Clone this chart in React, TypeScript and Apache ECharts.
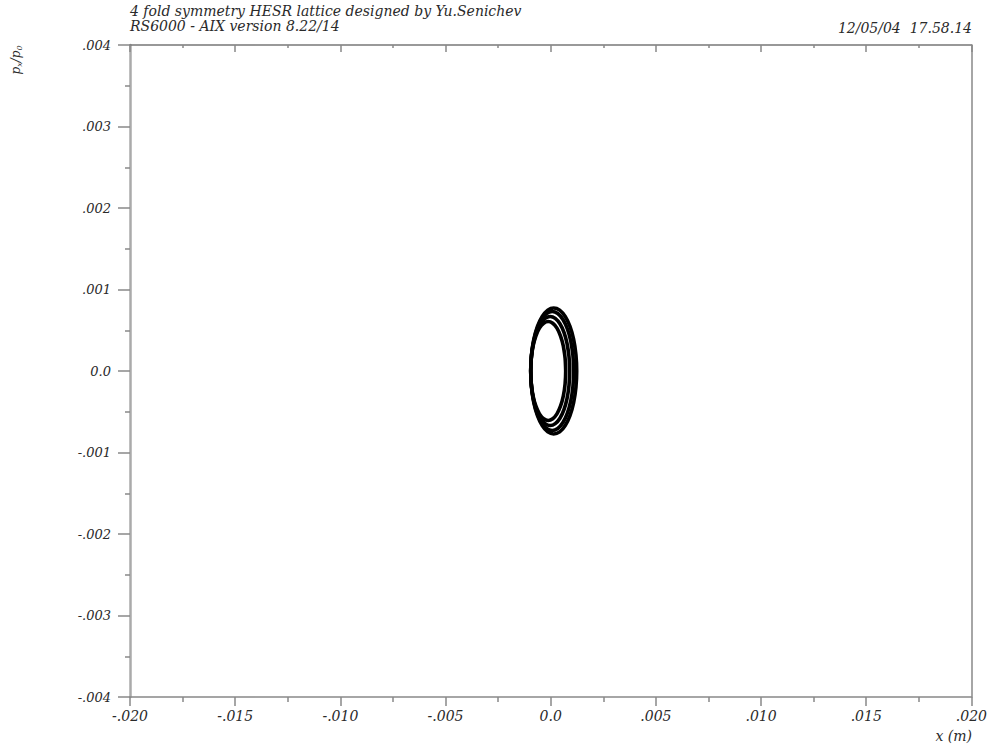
import React, { useEffect, useRef } from "react";
import * as echarts from "echarts";

const titleLine1 = "4 fold symmetry HESR lattice designed by Yu.Senichev";
const titleLine2 = "RS6000 - AIX version 8.22/14";
const dateText = "12/05/04  17.58.14";
const xAxisName = "x (m)";

const xTickLabels = ["-.020", "-.015", "-.010", "-.005", "0.0", ".005", ".010", ".015", ".020"];
const yTickLabels = ["-.004", "-.003", "-.002", "-.001", "0.0", ".001", ".002", ".003", ".004"];

// Phase-space turns (x in m, px/p0)
const ring1: [number, number][] = [
  [0.000712, 0], [0.000684, 0.000157], [0.000601, 0.000304], [0.000469, 0.000429],
  [0.000297, 0.000526], [0.000096, 0.000586], [-0.000119, 0.000607], [-0.000334, 0.000586],
  [-0.000535, 0.000526], [-0.000707, 0.000429], [-0.000839, 0.000304], [-0.000922, 0.000157],
  [-0.00095, 0], [-0.000922, -0.000157], [-0.000839, -0.000304], [-0.000707, -0.000429],
  [-0.000535, -0.000526], [-0.000334, -0.000586], [-0.000119, -0.000607], [0.000096, -0.000586],
  [0.000297, -0.000526], [0.000469, -0.000429], [0.000601, -0.000304], [0.000684, -0.000157],
  [0.000712, 0], [0.000684, 0.000157], [0.000601, 0.000304],
];
const ring2: [number, number][] = [
  [0.000902, 0], [0.000871, 0.000173], [0.000778, 0.000335], [0.000631, 0.000473],
  [0.000439, 0.000579], [0.000216, 0.000646], [-0.000024, 0.000669], [-0.000264, 0.000646],
  [-0.000487, 0.000579], [-0.000679, 0.000473], [-0.000826, 0.000335], [-0.000919, 0.000173],
  [-0.00095, 0], [-0.000919, -0.000173], [-0.000826, -0.000335], [-0.000679, -0.000473],
  [-0.000487, -0.000579], [-0.000264, -0.000646], [-0.000024, -0.000669], [0.000216, -0.000646],
  [0.000439, -0.000579], [0.000631, -0.000473], [0.000778, -0.000335], [0.000871, -0.000173],
  [0.000902, 0], [0.000871, 0.000173], [0.000778, 0.000335],
];
const ring3: [number, number][] = [
  [0.001092, 0], [0.001057, 0.000189], [0.000955, 0.000365], [0.000793, 0.000516],
  [0.000582, 0.000632], [0.000335, 0.000705], [0.000071, 0.00073], [-0.000193, 0.000705],
  [-0.00044, 0.000632], [-0.000651, 0.000516], [-0.000813, 0.000365], [-0.000915, 0.000189],
  [-0.00095, 0], [-0.000915, -0.000189], [-0.000813, -0.000365], [-0.000651, -0.000516],
  [-0.00044, -0.000632], [-0.000193, -0.000705], [0.000071, -0.00073], [0.000335, -0.000705],
  [0.000582, -0.000632], [0.000793, -0.000516], [0.000955, -0.000365], [0.001057, -0.000189],
  [0.001092, 0], [0.001057, 0.000189], [0.000955, 0.000365],
];
const ring4: [number, number][] = [
  [0.001236, 0], [0.001199, 0.0002], [0.00109, 0.000387], [0.000916, 0.000547],
  [0.00069, 0.000669], [0.000426, 0.000747], [0.000143, 0.000773], [-0.00014, 0.000747],
  [-0.000404, 0.000669], [-0.00063, 0.000547], [-0.000804, 0.000387], [-0.000913, 0.0002],
  [-0.00095, 0], [-0.000913, -0.0002], [-0.000804, -0.000387], [-0.00063, -0.000547],
  [-0.000404, -0.000669], [-0.00014, -0.000747], [0.000143, -0.000773], [0.000426, -0.000747],
  [0.00069, -0.000669], [0.000916, -0.000547], [0.00109, -0.000387], [0.001199, -0.0002],
  [0.001236, 0], [0.001199, 0.0002], [0.00109, 0.000387],
];
const rings = [ring1, ring2, ring3, ring4];

const X_MIN = -0.02, X_MAX = 0.02, X_INT = 0.005;
const Y_MIN = -0.004, Y_MAX = 0.004, Y_INT = 0.001;

const FONT = "'DejaVu Serif', 'Liberation Serif', serif";
const TXT = "#2a2a2a";

export default function App() {
  const ref = useRef<HTMLDivElement>(null);
  useEffect(() => {
    if (!ref.current) return;
    const chart = echarts.init(ref.current, null, { renderer: "svg" });
    const labelStyle = { fontFamily: FONT, fontStyle: "italic" as const, fontSize: 13, color: TXT };
    chart.setOption({
      animation: false,
      backgroundColor: "#fff",
      grid: { left: 130, right: 18, top: 45, bottom: 49, containLabel: false },
      xAxis: [
        {
          type: "value", position: "bottom", min: X_MIN, max: X_MAX, interval: X_INT,
          axisLine: { show: true, onZero: false, lineStyle: { color: "#888", width: 1.5 } },
          axisTick: { show: true, inside: false, length: 9, lineStyle: { color: "#888", width: 1.5 } },
          minorTick: { show: true, splitNumber: 2, length: 5, lineStyle: { color: "#888", width: 1.5 } },
          splitLine: { show: false },
          axisLabel: {
            ...labelStyle, fontSize: 14, margin: 12, showMinLabel: true, showMaxLabel: true,
            formatter: (v: number) => xTickLabels[Math.round((v - X_MIN) / X_INT)] ?? "",
          },
        },
        {
          type: "value", position: "top", min: X_MIN, max: X_MAX, interval: X_INT,
          axisLine: { show: true, onZero: false, lineStyle: { color: "#777", width: 1.5 } },
          axisTick: { show: true, inside: true, length: 7, lineStyle: { color: "#888", width: 1.5 } },
          minorTick: { show: true, splitNumber: 2, length: 3, lineStyle: { color: "#888", width: 1.5 } },
          splitLine: { show: false },
          axisLabel: { show: false },
        },
      ],
      yAxis: [
        {
          type: "value", position: "left", min: Y_MIN, max: Y_MAX, interval: Y_INT,
          axisLine: { show: true, onZero: false, lineStyle: { color: "#aaa", width: 2.5 } },
          axisTick: { show: true, inside: false, length: 12, lineStyle: { color: "#888", width: 1.5 } },
          minorTick: { show: true, splitNumber: 2, length: 5, lineStyle: { color: "#888", width: 1.5 } },
          splitLine: { show: false },
          axisLabel: {
            ...labelStyle, margin: 19, showMinLabel: true, showMaxLabel: true,
            formatter: (v: number) => yTickLabels[Math.round((v - Y_MIN) / Y_INT)] ?? "",
          },
        },
        {
          type: "value", position: "right", min: Y_MIN, max: Y_MAX, interval: Y_INT,
          axisLine: { show: true, onZero: false, lineStyle: { color: "#888", width: 1.5 } },
          axisTick: { show: false },
          splitLine: { show: false },
          axisLabel: { show: false },
        },
      ],
      series: rings.map((r) => ({
        type: "line",
        data: r,
        smooth: 0.3,
        symbol: "none",
        lineStyle: { color: "#000", width: 3.6 },
        xAxisIndex: 0,
        yAxisIndex: 0,
      })),
      graphic: [
        {
          type: "text", left: 130, top: 4,
          style: { text: titleLine1, font: `italic 14px ${FONT}`, fill: TXT },
        },
        {
          type: "text", left: 130, top: 19,
          style: { text: titleLine2, font: `italic 14px ${FONT}`, fill: TXT },
        },
        {
          type: "text", right: 18, top: 21,
          style: { text: dateText, font: `italic 14px ${FONT}`, fill: TXT },
        },
        {
          type: "text", right: 18, top: 729,
          style: { text: xAxisName, font: `italic 14px ${FONT}`, fill: TXT },
        },
        {
          type: "text", x: 16, y: 60, rotation: Math.PI / 2,
          style: {
            text: "{p|p}{s|x}{p|/p}{s|0}",
            align: "center", verticalAlign: "middle",
            rich: {
              p: { fontFamily: FONT, fontStyle: "italic", fontSize: 12, fill: TXT },
              s: { fontFamily: FONT, fontStyle: "italic", fontSize: 8, fill: TXT, padding: [6, 0, 0, 0] },
            },
          },
        },
      ],
    });
    return () => chart.dispose();
  }, []);
  return (
    <div
      ref={ref}
      style={{ position: "fixed", left: 0, top: 0, width: 990, height: 746, background: "#fff" }}
    />
  );
}
